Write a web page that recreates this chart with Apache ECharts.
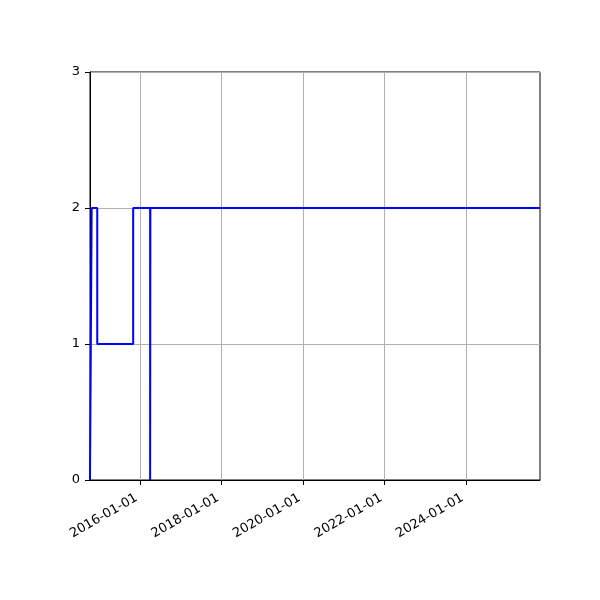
<!DOCTYPE html>
<html>
<head>
<meta charset="utf-8">
<script src="https://cdn.jsdelivr.net/npm/echarts@6/dist/echarts.min.js"></script>
<style>html,body{margin:0;padding:0;background:#fff}#c{width:600px;height:600px}</style>
</head>
<body>
<div id="c"></div>
<script>
const dates = ['2014-10-10','2014-10-25','2014-12-14','2015-11-01','2016-04-01','2016-04-03','2025-10-25'];
const values = [0, 2, 1, 2, 0, 2, 2];
const xTicks = ['2016-01-01','2018-01-01','2020-01-01','2022-01-01','2024-01-01'];
const yTicks = [0, 1, 2, 3];

const ts = s => new Date(s + 'T00:00:00Z').getTime();
const tickVals = xTicks.map(ts);
const fmt = v => { const d = new Date(v); return d.toISOString().slice(0,10); };

const chart = echarts.init(document.getElementById('c'), null, {renderer:'canvas'});
chart.setOption({
  animation: false,
  grid: {left: 90, right: 60, top: 72, bottom: 120, show: true, borderColor: '#000', borderWidth: 1},
  xAxis: {
    type: 'value',
    min: ts(dates[0]), max: ts(dates[dates.length-1]),
    axisLine: {lineStyle: {color: '#000'}},
    axisTick: {show: true, length: 5, lineStyle: {color: '#000'}, customValues: tickVals},
    axisLabel: {customValues: tickVals, formatter: v => fmt(v), rotate: 30, color: '#000',
      fontFamily: 'DejaVu Sans', fontSize: 13, margin: 15, padding: [0, 4, 0, 0]},
    splitLine: {show: true, lineStyle: {color: '#b0b0b0', width: 1}}
  },
  yAxis: {
    type: 'value', min: yTicks[0], max: yTicks[yTicks.length-1], interval: 1,
    axisLine: {show: true, lineStyle: {color: '#000'}},
    axisTick: {show: true, length: 5, lineStyle: {color: '#000'}},
    axisLabel: {color: '#000', fontFamily: 'DejaVu Sans', fontSize: 13, margin: 10},
    splitLine: {show: true, lineStyle: {color: '#b0b0b0', width: 1}}
  },
  series: [{
    type: 'line', step: 'end', showSymbol: false,
    data: dates.map((d,i) => [ts(d), values[i]]),
    lineStyle: {color: '#0000ff', width: 2},
    itemStyle: {color: '#0000ff'}
  }]
});
</script>
</body>
</html>
